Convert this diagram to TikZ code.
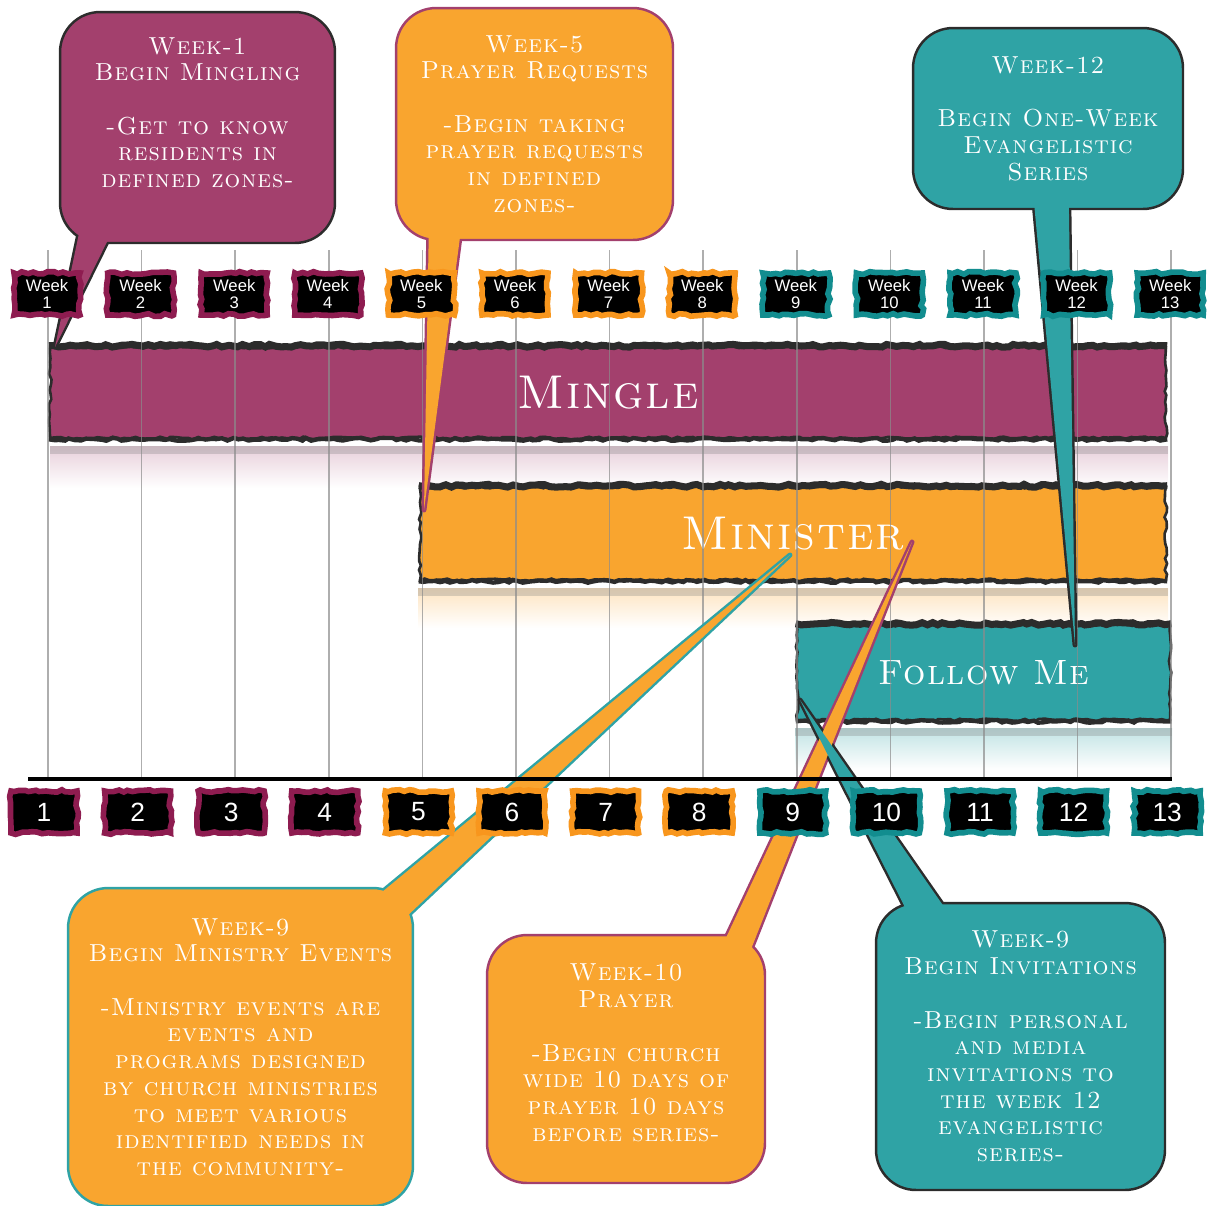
\documentclass[tikz,border=0pt]{standalone}
\usepackage{fontspec}
\newfontfamily\tagfont{Liberation Sans}
\newfontfamily\capsfont{lmromancaps10-regular.otf}[LetterSpace=4]
\usetikzlibrary{decorations.pathmorphing}

\definecolor{cMingle}{HTML}{A3406D}
\definecolor{cMinister}{HTML}{F9A52F}
\definecolor{cFollow}{HTML}{2FA3A5}
\definecolor{cTagM}{HTML}{8E1C50}
\definecolor{cTagO}{HTML}{F8961D}
\definecolor{cTagT}{HTML}{128D8F}
\definecolor{cInk}{HTML}{2C2C2C}
\definecolor{cGrid}{gray}{0.55}

\pgfdeclarelayer{tails}
\pgfdeclarelayer{boxes}
\pgfdeclarelayer{front}
\pgfdeclarelayer{top}
\pgfsetlayers{main,tails,boxes,front,top}

\tikzset{
  rough/.style={decorate, decoration={random steps, segment length=3pt, amplitude=0.8pt}},
  bar/.style={rectangle, draw=cInk, line width=1.5pt, rough, inner sep=0pt,
    text=white, font=\capsfont\fontsize{27}{30}\selectfont},
  callout/.style={rectangle, rounded corners=0.8cm, line width=1.4pt, inner sep=0pt,
    text=white, align=center, font=\capsfont\fontsize{14}{15.2}\selectfont},
  tailline/.style={line width=2.8pt, line join=round},
  weektag/.style={rectangle, fill=black, line width=3.2pt, rough, inner sep=0pt,
    minimum width=1.32cm, minimum height=0.84cm, text=white, align=center,
    font=\tagfont\fontsize{9.5}{10}\selectfont},
  numtag/.style={weektag, font=\tagfont\fontsize{15}{16}\selectfont},
}

\begin{document}
\begin{tikzpicture}[x=0.02cm, y=-0.02cm]
\pgfmathsetseed{3}
\useasboundingbox (0,0) rectangle (1207,1205);

% ── Reflections under the bars ──
\shade[top color=cMingle!25, bottom color=white] (50,446) rectangle (1168,488);
\shade[top color=cMinister!30, bottom color=white] (418,588) rectangle (1168,628);
\shade[top color=cFollow!30, bottom color=white] (795,728) rectangle (1172,770);
\fill[gray, opacity=0.3] (50,446) rectangle (1168,454);
\fill[gray, opacity=0.3] (418,588) rectangle (1168,596);
\fill[gray, opacity=0.3] (795,728) rectangle (1172,736);

% ── Bars ──
\node[bar, fill=cMingle, minimum width=22.32cm, minimum height=1.82cm] (mingle) at (608,392.5) {Mingle};
\node[bar, fill=cMinister, minimum width=14.92cm, minimum height=1.86cm] (minister) at (793,533.5) {Minister};
\node[bar, fill=cFollow, minimum width=7.46cm, minimum height=1.9cm,
  font=\capsfont\fontsize{20}{23}\selectfont] (follow) at (983.5,672.5) {Follow Me};
\foreach \b in {mingle,minister,follow} {
  \draw[cInk, line width=4pt, rough] (\b.north west) -- (\b.north east);
  \draw[cInk, line width=2.5pt, rough] (\b.south west) -- (\b.south east);
}

% ── Week lines ──
\foreach \i in {1,...,13} {
  \pgfmathsetmacro{\xx}{48+93.6*(\i-1)}
  \draw[cGrid, line width=0.9pt, opacity=0.7] (\xx,250) -- (\xx,780);
}

% ── Callouts ──
\begin{pgfonlayer}{boxes}
\node[callout, fill=cMingle, draw=cInk, minimum width=5.5cm, minimum height=4.62cm] (wk1) at (197.5,127.5)
  {Week-1\\Begin Mingling\\[15.2pt]-Get to know\\residents in\\defined zones-\\[2pt]\mbox{}};
\node[callout, fill=cMinister, draw=cMingle, minimum width=5.54cm, minimum height=4.64cm] (wk5) at (534.5,124)
  {Week-5\\Prayer Requests\\[15.2pt]-Begin taking\\prayer requests\\in defined\\zones-};
\node[callout, fill=cFollow, draw=cInk, minimum width=5.4cm, minimum height=3.62cm] (wk12) at (1048,118.5)
  {Week-12\\[15.2pt]Begin One-Week\\Evangelistic\\Series};
\node[callout, fill=cMinister, draw=cFollow, minimum width=6.9cm, minimum height=6.36cm] (wk9a) at (240.5,1047)
  {Week-9\\Begin Ministry Events\\[15.2pt]-Ministry events are\\events and\\programs designed\\by church ministries\\to meet various\\identified needs in\\the community-};
\node[callout, fill=cMinister, draw=cMingle, minimum width=5.56cm, minimum height=4.96cm] (wk10) at (626,1059)
  {Week-10\\Prayer\\[15.2pt]-Begin church\\wide 10 days of\\prayer 10 days\\before series-\\[-8pt]\mbox{}};
\node[callout, fill=cFollow, draw=cInk, minimum width=5.78cm, minimum height=5.74cm] (wk9b) at (1020.5,1046.5)
  {Week-9\\Begin Invitations\\[15.2pt]-Begin personal\\and media\\invitations to\\the week 12\\evangelistic\\series-};
\end{pgfonlayer}

% ── Tails ──
\coordinate (tip1) at (55,347);
\coordinate (tip5) at (424,510);
\coordinate (tip12) at (1075,645);
\coordinate (tip9a) at (790,555);
\coordinate (tip10) at (912,542);
\coordinate (tip9b) at (800,700);
\foreach \cb/\an/\ax/\ay/\bx/\by/\tp/\fc/\lc in {
    wk1/south west/20/-10/52/-10/tip1/cMingle/cInk,
    wk5/south west/34/-10/66/-10/tip5/cMinister/cMingle,
    wk12/south west/122/-10/157/-10/tip12/cFollow/cInk,
    wk9a/north east/-38/10/-10/32/tip9a/cMinister/cFollow,
    wk10/north east/-43/10/-17/20/tip10/cMinister/cMingle,
    wk9b/north west/32/9/72/9/tip9b/cFollow/cInk} {
  \begin{pgfonlayer}{tails}
  \draw[tailline, \lc] ([shift={(\ax,\ay)}]\cb.\an) -- (\tp) -- ([shift={(\bx,\by)}]\cb.\an) -- cycle;
  \end{pgfonlayer}
  \begin{pgfonlayer}{front}
  \fill[\fc] ([shift={(\ax,\ay)}]\cb.\an) -- (\tp) -- ([shift={(\bx,\by)}]\cb.\an) -- cycle;
  \end{pgfonlayer}
}

% ── Axis and week tags ──
\begin{pgfonlayer}{top}
\draw[black, line width=2.4pt] (28,779) -- (1172,779);
\foreach \i/\tc in {1/cTagM,2/cTagM,3/cTagM,4/cTagM,5/cTagO,6/cTagO,7/cTagO,8/cTagO,
                    9/cTagT,10/cTagT,11/cTagT,12/cTagT,13/cTagT} {
  \pgfmathsetmacro{\xx}{47+93.6*(\i-1)}
  \node[weektag, draw=\tc] (tagw\i) at (\xx,294) {Week\\\i};
  \node[numtag, draw=\tc] (tagn\i) at (\xx-3,812) {\i};
}
\end{pgfonlayer}

\end{tikzpicture}
\end{document}
